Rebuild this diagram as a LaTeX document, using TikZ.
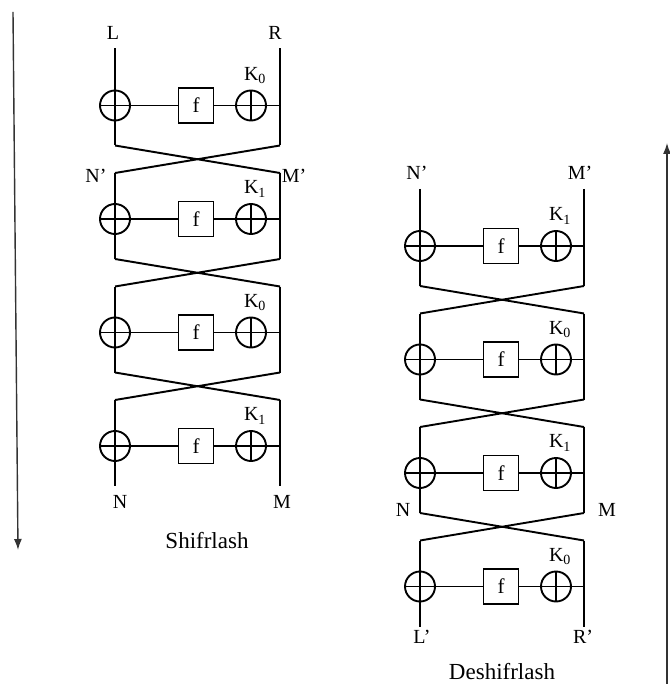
\documentclass[tikz,border=0pt]{standalone}
\usepackage{fontspec}
\setmainfont{Liberation Serif}
\usetikzlibrary{arrows.meta}
\begin{document}
\begin{tikzpicture}[x=1pt,y=-1pt,line width=1.9pt,
  xor/.style={draw,circle,minimum size=30pt,inner sep=0pt,
    path picture={\draw (path picture bounding box.north) -- (path picture bounding box.south)
      (path picture bounding box.west) -- (path picture bounding box.east);}},
  fbox/.style={draw,minimum size=35pt,inner sep=0pt,font=\fontsize{21}{23}\selectfont},
  lbl/.style={font=\fontsize{20}{22}\selectfont,inner sep=0pt},
  title/.style={font=\fontsize{23}{25}\selectfont,inner sep=0pt}]
\useasboundingbox (0,0) rectangle (669,684);
% two Feistel networks: b = block, lx/rx = left/right wire, yo = first round
\foreach \b/\lx/\rx/\yo/\keys in {a/115/280/105.5/{0,1,0,1},b/420/584/246/{1,0,1,0}} {
  \foreach \key [count=\i from 0] in \keys {
    \pgfmathsetmacro\yy{\yo+113.5*\i}
    \node[xor] (\b x\i) at (\lx,\yy) {};
    \node[fbox] (\b f\i) at (\lx+81,\yy) {f};
    \node[xor] (\b k\i) at (\lx+136,\yy) {};
    \node[lbl] (\b kl\i) at (\lx+140,\yy-30) {K\textsubscript{\key}};
    \coordinate (\b lt\i) at (\lx,\yy-46);
    \coordinate (\b rt\i) at (\rx,\yy-46);
    \coordinate (\b lb\i) at (\lx,\yy+40);
    \coordinate (\b rb\i) at (\rx,\yy+40);
    \coordinate (\b r\i) at (\rx,\yy);
    \draw (\b lt\i) -- (\b lb\i) (\b rt\i) -- (\b rb\i);
    \draw (\b x\i.east) -- (\b f\i) -- (\b k\i) -- (\b r\i);
  }
  \foreach \i/\j in {0/1,1/2,2/3}
    \draw (\b lb\i) -- (\b rt\j) (\b rb\i) -- (\b lt\j);
  \coordinate (\b in) at (\lx,\yo-57);
  \coordinate (\b out) at (\rx,\yo-57);
  \draw (\b in) -- (\b lt0) (\b out) -- (\b rt0);
}
% labels
\node[lbl] (L) at (113,33) {L};
\node[lbl] (R) at (275,33) {R};
\node[lbl] (Np) at (96,176) {N'};
\node[lbl] (Mp) at (294,176) {M'};
\node[lbl] (N) at (120,502) {N};
\node[lbl] (M) at (282,502) {M};
\node[lbl] (Np2) at (417,173) {N'};
\node[lbl] (Mp2) at (580,173) {M'};
\node[lbl] (N2) at (403,510) {N};
\node[lbl] (M2) at (607,510) {M};
\node[lbl] (Lp) at (422,637) {L'};
\node[lbl] (Rp) at (583,637) {R'};
\node[title] (enc) at (207,541) {Shifrlash};
\node[title] (dec) at (502,672) {Deshifrlash};
% direction arrows
\coordinate (dtop) at (13,12);
\coordinate (dbot) at (18,550);
\coordinate (ubot) at (667,684);
\coordinate (utop) at (667,143);
\draw[black!80,line width=1.4pt,-{Latex[length=11pt,width=8pt]}] (dtop) -- (dbot);
\draw[black!80,line width=1.4pt,-{Latex[length=11pt,width=8pt]}] (ubot) -- (utop);
\end{tikzpicture}
\end{document}
